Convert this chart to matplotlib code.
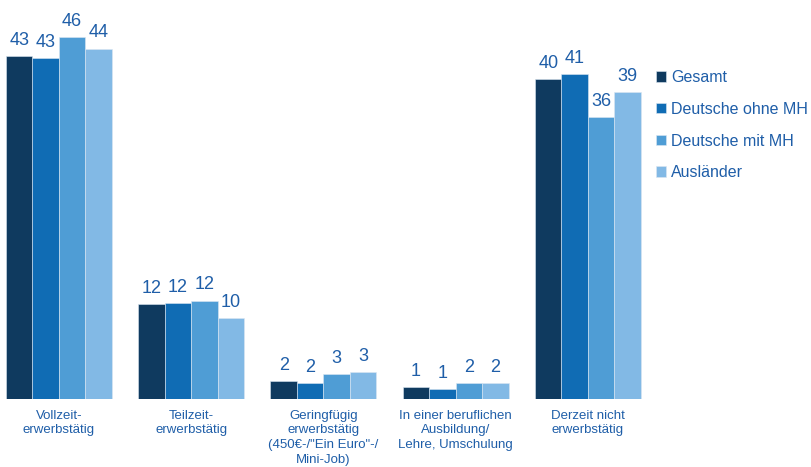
import matplotlib
matplotlib.use("Agg")
import matplotlib.pyplot as plt
import numpy as np

plt.rcParams['font.family'] = ['Liberation Sans', 'DejaVu Sans']

categories = ["Vollzeit-\nerwerbstätig", "Teilzeit-\nerwerbstätig",
              "Geringfügig\nerwerbstätig\n(450€-/\"Ein Euro\"-/\nMini-Job)",
              "In einer beruflichen\nAusbildung/\nLehre, Umschulung",
              "Derzeit nicht\nerwerbstätig"]
series_names = ["Gesamt", "Deutsche ohne MH", "Deutsche mit MH", "Ausländer"]
gesamt = [43.4, 12.0, 2.2, 1.4, 40.4]
ohne_mh = [43.1, 12.1, 1.9, 1.2, 41.1]
mit_mh = [45.8, 12.4, 3.1, 1.9, 35.6]
auslaender = [44.3, 10.2, 3.4, 1.9, 38.8]
labels = [[43, 12, 2, 1, 40], [43, 12, 2, 1, 41], [46, 12, 3, 2, 36], [44, 10, 3, 2, 39]]

colors = ["#0f3a5f", "#106cb4", "#4f9dd5", "#82b9e5"]
text_color = "#1f5ea8"

W, H = 812, 467
fig = plt.figure(figsize=(W / 100, H / 100), dpi=100)
base_px = 398.5
ax_right = 650
scale_px = 132.25
x0 = -0.4 - 6 / scale_px
x1 = x0 + ax_right / scale_px
ax = fig.add_axes([0, (H - base_px) / H, ax_right / W, base_px / H])
ax.set_xlim(x0, x1)
ax.set_ylim(0, base_px / 7.9)

x = np.arange(len(categories))
bw = 0.2
data = [gesamt, ohne_mh, mit_mh, auslaender]
handles = []
for i, (vals, col, name) in enumerate(zip(data, colors, series_names)):
    pos = x - 0.3 + i * bw
    b = ax.bar(pos, vals, width=bw, color=col, edgecolor="#dbe7f2", linewidth=0.4, label=name)
    handles.append(b)
    for xp, v, lab in zip(pos, vals, labels[i]):
        ax.annotate(str(lab), (xp, v), xytext=(0, 8), textcoords="offset points",
                    ha="center", va="baseline", fontsize=13, color=text_color)

for xi, cat in zip(x, categories):
    ax.annotate(cat, (xi, 0), xytext=(0, -8), textcoords="offset points",
                ha="center", va="top", fontsize=9.5, color=text_color, linespacing=1.3)

ax.axis("off")

leg = fig.legend(handles=handles, labels=series_names, loc="upper left",
                 bbox_to_anchor=(656 / W, 1 - 70 / H), frameon=False,
                 handlelength=0.65, handleheight=0.65, handletextpad=0.3,
                 labelspacing=1.05, fontsize=11.5, borderaxespad=0, borderpad=0)
for t in leg.get_texts():
    t.set_color(text_color)

fig.savefig("out.png", dpi=100)
